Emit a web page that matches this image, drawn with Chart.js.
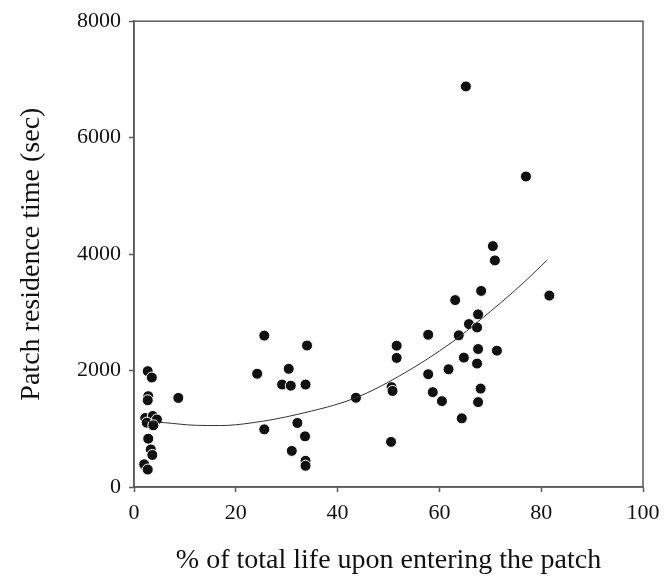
<!DOCTYPE html>
<html>
<head>
<meta charset="utf-8">
<script src="https://cdn.jsdelivr.net/npm/chart.js@4.4.1/dist/chart.umd.min.js"></script>
<style>
  html, body { margin: 0; padding: 0; background: #fff; }
  #wrap { width: 668px; height: 581px; position: relative; }
</style>
</head>
<body>
<div id="wrap"><canvas id="chart" width="668" height="581"></canvas></div>
<script>
// observed points: % of life on entering vs residence time (sec)
const lifePct = [
  2.7, 3.5, 2.8, 2.7, 8.7, 2.2, 3.7, 4.5, 2.5, 3.8, 2.8, 3.3, 3.6, 2.0, 2.7,
  25.6, 34.0, 24.2, 30.4, 29.1, 30.8, 33.7, 25.6, 32.1, 33.6, 31.0, 33.7, 33.7,
  43.6, 50.5, 50.6, 50.8, 51.6, 51.6, 57.8, 57.8, 58.7, 60.5, 61.8, 63.1, 63.8,
  64.4, 64.8, 65.2, 65.8, 67.4, 67.6, 67.6, 67.4, 67.6, 68.1, 68.2, 70.5, 70.9,
  71.3, 77.0, 81.6
];
const residence = [
  1990, 1880, 1560, 1490, 1530, 1185, 1220, 1160, 1105, 1060, 830, 645, 550, 390, 300,
  2600, 2430, 1945, 2030, 1760, 1740, 1760, 990, 1100, 870, 620, 450, 365,
  1533, 775, 1715, 1650, 2427, 2217, 2615, 1937, 1629, 1475, 2022, 3210, 2605,
  1179, 2222, 6880, 2798, 2740, 2965, 2370, 2120, 1458, 1690, 3368, 4137, 3892,
  2342, 5333, 3288
];

// fitted curve
const fitX = [2, 6, 12, 17, 23, 32, 43.5, 52, 62.7, 68, 72, 76.8, 81.2];
const fitY = [1130, 1105, 1060, 1055, 1100, 1245, 1530, 1900, 2500, 2870, 3160, 3530, 3900];

const xTicks = [0, 20, 40, 60, 80, 100];
const yTicks = [0, 2000, 4000, 6000, 8000];

const serif = "'Liberation Serif', 'DejaVu Serif', serif";
const axisGrey = "#5a5a5a";

// box round the plot area
const frame = {
  id: "frame",
  afterDraw(chart) {
    const { ctx, chartArea: a } = chart;
    ctx.save();
    ctx.strokeStyle = axisGrey;
    ctx.lineWidth = 1.5;
    ctx.strokeRect(a.left, a.top, a.right - a.left, a.bottom - a.top);
    ctx.restore();
  },
};

const points = lifePct.map((x, i) => ({ x: x, y: residence[i] }));
const fit = fitX.map((x, i) => ({ x: x, y: fitY[i] }));

new Chart(document.getElementById("chart"), {
  type: "scatter",
  data: {
    datasets: [
      {
        label: "fit",
        type: "line",
        data: fit,
        borderColor: "#333",
        borderWidth: 1,
        pointRadius: 0,
        cubicInterpolationMode: "monotone",
        fill: false,
      },
      {
        label: "patches",
        data: points,
        backgroundColor: "#111",
        borderColor: "#fff",
        borderWidth: 1,
        pointRadius: 5.5,
      },
    ],
  },
  options: {
    responsive: false,
    animation: false,
    layout: { padding: { top: 18, right: 25, left: 0, bottom: 0 } },
    plugins: { legend: { display: false }, tooltip: { enabled: false } },
    scales: {
      x: {
        type: "linear",
        min: 0,
        max: 100,
        afterBuildTicks: (s) => { s.ticks = xTicks.map((v) => ({ value: v })); },
        afterFit: (s) => { s.height = 94; },
        ticks: {
          font: { family: serif, size: 22 },
          color: "#111",
          padding: 8,
          callback: (v) => String(v),
        },
        grid: { drawOnChartArea: false, tickLength: 5, tickColor: axisGrey, tickWidth: 1.5 },
        border: { color: axisGrey, width: 1.5 },
        title: {
          display: true,
          text: "% of total life upon entering the patch",
          font: { family: serif, size: 28 },
          color: "#111",
          padding: { top: 0, bottom: 4 },
        },
      },
      y: {
        min: 0,
        max: 8000,
        afterBuildTicks: (s) => { s.ticks = yTicks.map((v) => ({ value: v })); },
        afterFit: (s) => { s.width = 134; },
        ticks: {
          font: { family: serif, size: 22 },
          color: "#111",
          padding: 8,
          callback: (v) => String(v),
        },
        grid: { drawOnChartArea: false, tickLength: 5, tickColor: axisGrey, tickWidth: 1.5 },
        border: { color: axisGrey, width: 1.5 },
        title: {
          display: true,
          text: "Patch residence time (sec)",
          font: { family: serif, size: 28 },
          color: "#111",
          padding: { top: 15, bottom: 0 },
        },
      },
    },
  },
  plugins: [frame],
});
</script>
</body>
</html>
